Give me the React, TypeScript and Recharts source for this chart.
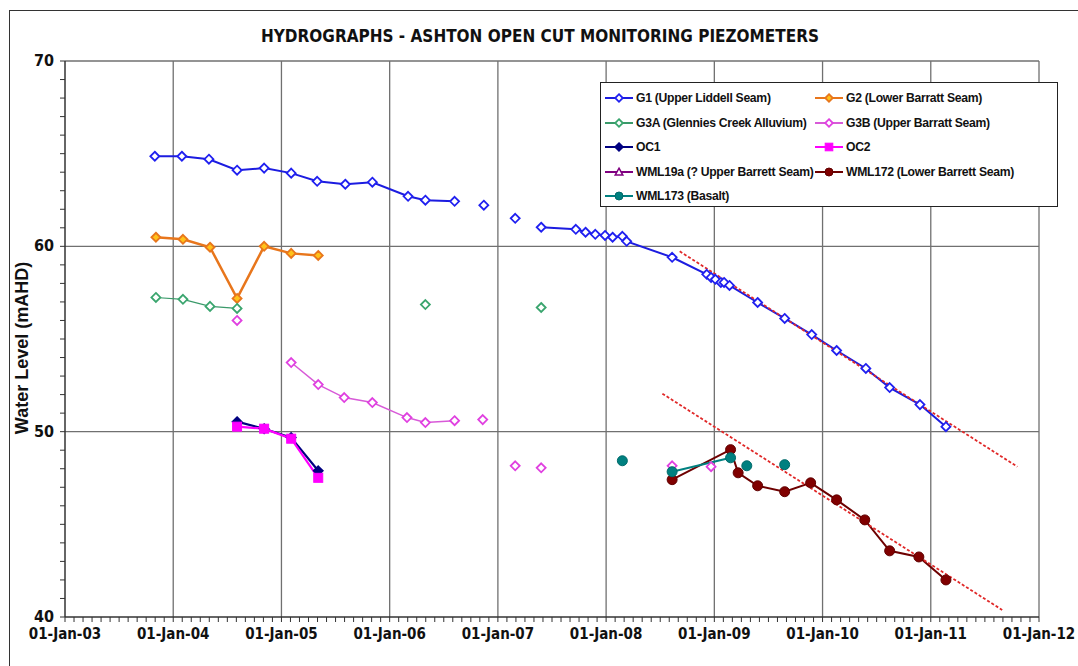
import { Legend, Line, LineChart, ReferenceLine, XAxis, YAxis } from 'recharts'

// piezometer readings, decimal year vs water level (mAHD)
const g1Dates = [
  2003.83, 2004.08, 2004.33, 2004.59, 2004.84, 2005.09, 2005.33, 2005.59, 2005.84, 2006.17, 2006.33,
  2006.6, 2006.87, 2007.16, 2007.4, 2007.72, 2007.81, 2007.9, 2007.99, 2008.06, 2008.15, 2008.19,
  2008.61, 2008.93, 2008.97, 2009.01, 2009.06, 2009.09, 2009.14, 2009.4, 2009.65, 2009.9, 2010.13,
  2010.4, 2010.62, 2010.9, 2011.14,
]
const g1Levels = [
  64.86, 64.86, 64.7, 64.11, 64.22, 63.95, 63.51, 63.35, 63.46, 62.7, 62.49, 62.43, 62.22, 61.51,
  61.03, 60.92, 60.76, 60.65, 60.59, 60.49, 60.54, 60.27, 59.41, 58.49, 58.32, 58.22, 58.05, 58.05,
  57.89, 56.97, 56.11, 55.24, 54.38, 53.41, 52.38, 51.46, 50.27,
]
const g1Breaks = [12, 13, 14]

const g2Dates = [2003.84, 2004.09, 2004.34, 2004.59, 2004.84, 2005.09, 2005.34]
const g2Levels = [60.49, 60.38, 59.95, 57.19, 60.0, 59.62, 59.51]

const g3aDates = [2003.84, 2004.09, 2004.34, 2004.59, 2006.33, 2007.4]
const g3aLevels = [57.24, 57.14, 56.76, 56.65, 56.86, 56.7]
const g3aBreaks = [4, 5]

const g3bDates = [
  2004.59, 2005.09, 2005.34, 2005.58, 2005.84, 2006.16, 2006.33, 2006.6, 2006.86, 2007.16, 2007.4,
  2008.61, 2008.97,
]
const g3bLevels = [56.0, 53.73, 52.54, 51.84, 51.57, 50.76, 50.49, 50.59, 50.65, 48.16, 48.05, 48.16, 48.11]
const g3bBreaks = [1, 8, 9, 10, 11, 12]

const ocDates = [2004.59, 2004.84, 2005.09, 2005.34]
const oc1Levels = [50.54, 50.16, 49.68, 47.89]
const oc2Levels = [50.27, 50.16, 49.62, 47.51]

const wml19aDates: number[] = []
const wml19aLevels: number[] = []

const wml172Dates = [2008.61, 2009.15, 2009.22, 2009.4, 2009.65, 2009.89, 2010.13, 2010.39, 2010.62, 2010.89, 2011.14]
const wml172Levels = [47.41, 49.03, 47.78, 47.08, 46.76, 47.24, 46.32, 45.24, 43.57, 43.24, 42.0]

const wml173Dates = [2008.15, 2008.61, 2009.15, 2009.3, 2009.65]
const wml173Levels = [48.43, 47.84, 48.59, 48.16, 48.22]
const wml173Breaks = [1, 3, 4]

// hand-drawn trend lines
const trend1Dates = [2008.68, 2011.8]
const trend1Levels = [59.73, 48.11]
const trend2Dates = [2008.52, 2011.66]
const trend2Levels = [52.05, 40.38]

const years = [2003, 2004, 2005, 2006, 2007, 2008, 2009, 2010, 2011, 2012]
const xTickLabels = [
  '01-Jan-03', '01-Jan-04', '01-Jan-05', '01-Jan-06', '01-Jan-07',
  '01-Jan-08', '01-Jan-09', '01-Jan-10', '01-Jan-11', '01-Jan-12',
]
const yMajor = [40, 50, 60, 70]

const monthTicks = Array.from({ length: 9 * 12 + 1 }, (_, i) => 2003 + i / 12)
const levelTicks = Array.from({ length: 31 }, (_, i) => 40 + i)

type Pt = { t: number; v: number | null }

const build = (dates: number[], levels: number[], breaks: number[] = []): Pt[] => {
  const out: Pt[] = []
  dates.forEach((t, i) => {
    if (breaks.includes(i)) out.push({ t, v: null })
    out.push({ t, v: levels[i] })
  })
  return out
}

type Shape = 'diamond' | 'square' | 'circle' | 'triangle' | 'none'

function Marker({ shape, cx, cy, r, fill, stroke }: { shape: Shape; cx: number; cy: number; r: number; fill: string; stroke: string }) {
  if (shape === 'diamond')
    return <path d={`M${cx},${cy - r}L${cx + r},${cy}L${cx},${cy + r}L${cx - r},${cy}Z`} fill={fill} stroke={stroke} strokeWidth={1.8} />
  if (shape === 'square')
    return <rect x={cx - r} y={cy - r} width={2 * r} height={2 * r} fill={fill} stroke={stroke} strokeWidth={1} />
  if (shape === 'circle') return <circle cx={cx} cy={cy} r={r} fill={fill} stroke={stroke} strokeWidth={1} />
  if (shape === 'triangle')
    return <path d={`M${cx},${cy - r}L${cx + r},${cy + r * 0.8}L${cx - r},${cy + r * 0.8}Z`} fill={fill} stroke={stroke} strokeWidth={1.5} />
  return null
}

const series = [
  { name: 'G1 (Upper Liddell Seam)', data: build(g1Dates, g1Levels, g1Breaks), line: '#1c1ce0', width: 2, shape: 'diamond' as Shape, r: 4.5, fill: '#ffffff', stroke: '#2020f0' },
  { name: 'G2 (Lower Barratt Seam)', data: build(g2Dates, g2Levels), line: '#e8761c', width: 2.5, shape: 'diamond' as Shape, r: 4.5, fill: '#ffc21a', stroke: '#e8761c' },
  { name: 'G3A (Glennies Creek Alluvium)', data: build(g3aDates, g3aLevels, g3aBreaks), line: '#3a9a6a', width: 1.2, shape: 'diamond' as Shape, r: 4.5, fill: '#ffffff', stroke: '#3aa56e' },
  { name: 'G3B (Upper Barratt Seam)', data: build(g3bDates, g3bLevels, g3bBreaks), line: '#d85ad8', width: 1.5, shape: 'diamond' as Shape, r: 4.5, fill: '#ffffff', stroke: '#e040e0' },
  { name: 'OC1', data: build(ocDates, oc1Levels), line: '#000080', width: 2.2, shape: 'diamond' as Shape, r: 4.5, fill: '#000080', stroke: '#000080' },
  { name: 'OC2', data: build(ocDates, oc2Levels), line: '#ff00ff', width: 2.2, shape: 'square' as Shape, r: 4.5, fill: '#ff00ff', stroke: '#ff00ff' },
  { name: 'WML19a (? Upper Barrett Seam)', data: build(wml19aDates, wml19aLevels), line: '#800080', width: 2, shape: 'triangle' as Shape, r: 4, fill: '#ffffff', stroke: '#800080' },
  { name: 'WML172 (Lower Barrett Seam)', data: build(wml172Dates, wml172Levels), line: '#6e0000', width: 2, shape: 'circle' as Shape, r: 5, fill: '#800000', stroke: '#600000' },
  { name: 'WML173 (Basalt)', data: build(wml173Dates, wml173Levels, wml173Breaks), line: '#008080', width: 2, shape: 'circle' as Shape, r: 5, fill: '#008080', stroke: '#006a6a' },
]

const trends = [build(trend1Dates, trend1Levels), build(trend2Dates, trend2Levels)]

const narrow = "'Liberation Sans Narrow', 'Arial Narrow', 'DejaVu Sans Condensed', sans-serif"
const arial = "'Liberation Sans', Arial, sans-serif"

function XTick({ x, y, payload }: any) {
  const idx = years.findIndex((yr) => Math.abs(yr - payload.value) < 1e-6)
  if (idx < 0) return <g />
  return (
    <text x={x} y={y} dy={15} textAnchor="middle" fontFamily={narrow} fontWeight="bold" fontSize={15} fill="#111">
      {xTickLabels[idx]}
    </text>
  )
}

function YTick({ x, y, payload }: any) {
  if (!yMajor.includes(Math.round(payload.value)) || Math.abs(payload.value - Math.round(payload.value)) > 1e-6) return <g />
  return (
    <text x={x} y={y} dy={5} textAnchor="end" fontFamily={narrow} fontWeight="bold" fontSize={16} fill="#111">
      {payload.value}
    </text>
  )
}

function LegendBox() {
  const items = series.map((s, i) => ({ s, col: i % 2, row: Math.floor(i / 2) }))
  return (
    <div style={{ position: 'relative', width: 458, height: 125, border: '1.5px solid #222', background: '#fff', boxSizing: 'border-box' }}>
      {items.map(({ s, col, row }) => (
        <div
          key={s.name}
          style={{
            position: 'absolute',
            left: col === 0 ? 4 : 214,
            top: 6 + row * 24.5,
            height: 18,
            display: 'flex',
            alignItems: 'center',
            whiteSpace: 'nowrap',
          }}
        >
          <svg width={28} height={14} style={{ marginRight: 3 }}>
            <line x1={0} y1={7} x2={28} y2={7} stroke={s.line} strokeWidth={2} />
            <Marker shape={s.shape} cx={14} cy={7} r={s.shape === 'circle' ? 4 : 3.8} fill={s.fill} stroke={s.stroke} />
          </svg>
          <span style={{ fontFamily: arial, fontWeight: 'bold', fontSize: 12.2, letterSpacing: -0.3, color: '#111' }}>{s.name}</span>
        </div>
      ))}
    </div>
  )
}

const dotFor = (s: (typeof series)[number]) => (p: any) => {
  if (p.cx == null || p.cy == null || p.value == null || p.payload?.v == null) return <g key={p.key ?? p.index} />
  return (
    <g key={p.key ?? p.index}>
      <Marker shape={s.shape} cx={p.cx} cy={p.cy} r={s.r} fill={s.fill} stroke={s.stroke} />
    </g>
  )
}

export default function App() {
  return (
    <div style={{ position: 'absolute', left: 0, top: 0, width: 1078, height: 666, background: '#fff', overflow: 'hidden' }}>
      <div style={{ position: 'absolute', left: 9, top: 10, width: 1100, height: 700, borderTop: '1.5px solid #333', borderLeft: '1.5px solid #333' }} />
      <LineChart width={1078} height={666} margin={{ top: 61, right: 39, bottom: 19, left: 25 }} style={{ position: 'absolute', left: 0, top: 0 }}>
        <text x={540} y={42} textAnchor="middle" fontFamily={narrow} fontWeight="bold" fontSize={17} fill="#111">
          HYDROGRAPHS - ASHTON OPEN CUT MONITORING PIEZOMETERS
        </text>
        <text x={28} y={348} transform="rotate(-90 28 348)" textAnchor="middle" fontFamily={arial} fontWeight="bold" fontSize={18} fill="#111">
          Water Level (mAHD)
        </text>
        <XAxis
          dataKey="t"
          type="number"
          domain={[2003, 2012]}
          ticks={monthTicks}
          interval={0}
          allowDataOverflow
          height={30}
          tick={<XTick />}
          tickSize={5}
          tickMargin={2}
          axisLine={{ stroke: '#333', strokeWidth: 1.5 }}
          tickLine={{ stroke: '#333' }}
        />
        <YAxis
          type="number"
          domain={[40, 70]}
          ticks={levelTicks}
          interval={0}
          allowDataOverflow
          width={40}
          tick={<YTick />}
          tickSize={5}
          tickMargin={6}
          axisLine={{ stroke: '#333', strokeWidth: 1.5 }}
          tickLine={{ stroke: '#333' }}
        />
        {years.slice(1).map((yr) => (
          <ReferenceLine key={yr} x={yr} stroke="#707070" strokeWidth={1.3} ifOverflow="extendDomain" />
        ))}
        {yMajor.slice(1).map((lv) => (
          <ReferenceLine key={lv} y={lv} stroke="#707070" strokeWidth={1.3} />
        ))}
        {series.map((s) => (
          <Line
            key={s.name}
            data={s.data}
            dataKey="v"
            name={s.name}
            stroke={s.line}
            strokeWidth={s.width}
            dot={dotFor(s)}
            activeDot={false}
            legendType="none"
            isAnimationActive={false}
          />
        ))}
        {trends.map((d, i) => (
          <Line
            key={`trend${i}`}
            data={d}
            dataKey="v"
            stroke="#e02828"
            strokeWidth={1.8}
            strokeDasharray="3 2"
            dot={false}
            activeDot={false}
            legendType="none"
            isAnimationActive={false}
          />
        ))}
        <Legend
          layout="horizontal"
          verticalAlign="middle"
          align="center"
          content={() => <LegendBox />}
          wrapperStyle={{ position: 'absolute', left: 600, top: 82, width: 458, height: 125 }}
        />
      </LineChart>
    </div>
  )
}
